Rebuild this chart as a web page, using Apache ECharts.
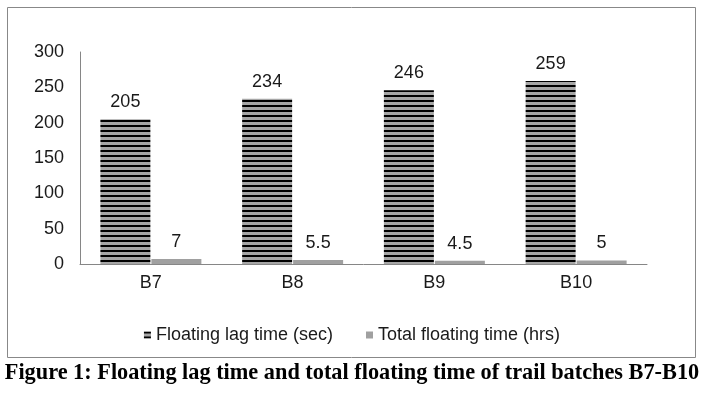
<!DOCTYPE html>
<html><head><meta charset="utf-8">
<script src="https://cdn.jsdelivr.net/npm/echarts@6/dist/echarts.min.js"></script>
<style>html,body{margin:0;padding:0;background:#fff;}#c{width:704px;height:393px;}</style>
</head><body><div id="c"></div>
<script>
const categories = ['B7', 'B8', 'B9', 'B10'];
const lagTime = [205, 234, 246, 259];
const floatTime = [7, 5.5, 4.5, 5];
const seriesNames = ['Floating lag time (sec)', 'Total floating time (hrs)'];
const caption = 'Figure 1: Floating lag time and total floating time of trail batches B7-B10';

const pc = document.createElement('canvas');
pc.width = 4; pc.height = 5;
const g = pc.getContext('2d');
g.fillStyle = '#a6a6a6'; g.fillRect(0, 0, 4, 5);
g.fillStyle = '#000000'; g.fillRect(0, 0, 4, 2);
const stripe = { image: pc, repeat: 'repeat' };

const chart = echarts.init(document.getElementById('c'));
const font = 'Liberation Sans, Arial, sans-serif';
const fs = 18;
chart.setOption({
  animation: false,
  grid: { left: 80, right: 57, top: 52, bottom: 129, containLabel: false },
  xAxis: {
    type: 'category', data: categories,
    axisLine: { lineStyle: { color: '#868686', width: 1 } },
    axisTick: { show: false },
    axisLabel: { color: '#1a1a1a', fontFamily: font, fontSize: fs, margin: 10 }
  },
  yAxis: {
    type: 'value', min: 0, max: 300, interval: 50,
    axisLine: { show: true, lineStyle: { color: '#868686', width: 1 } },
    axisTick: { show: false },
    splitLine: { show: false },
    axisLabel: { color: '#1a1a1a', fontFamily: font, fontSize: fs, margin: 16 }
  },
  legend: {
    top: 321, left: 'center', itemWidth: 7, itemHeight: 7, itemGap: 33, icon: 'rect',
    textStyle: { color: '#1a1a1a', fontFamily: font, fontSize: fs },
    data: seriesNames
  },
  series: [
    { name: seriesNames[0], type: 'bar', data: lagTime, barWidth: 50, barGap: '2%',
      itemStyle: { color: stripe },
      label: { show: true, position: 'top', distance: 8, color: '#1a1a1a', fontFamily: font, fontSize: fs } },
    { name: seriesNames[1], type: 'bar', data: floatTime, barWidth: 50,
      itemStyle: { color: '#a0a0a0' },
      label: { show: true, position: 'top', distance: 8, color: '#1a1a1a', fontFamily: font, fontSize: fs } }
  ],
  graphic: [
    { type: 'rect', shape: { x: 7.5, y: 7.5, width: 688, height: 350 }, style: { fill: 'none', stroke: '#888', lineWidth: 1 }, silent: true },
    { type: 'text', left: 'center', top: 362, style: { text: caption, font: 'bold 22.3px "Liberation Serif", "Times New Roman", serif', fill: '#000' } }
  ]
});
</script></body></html>
